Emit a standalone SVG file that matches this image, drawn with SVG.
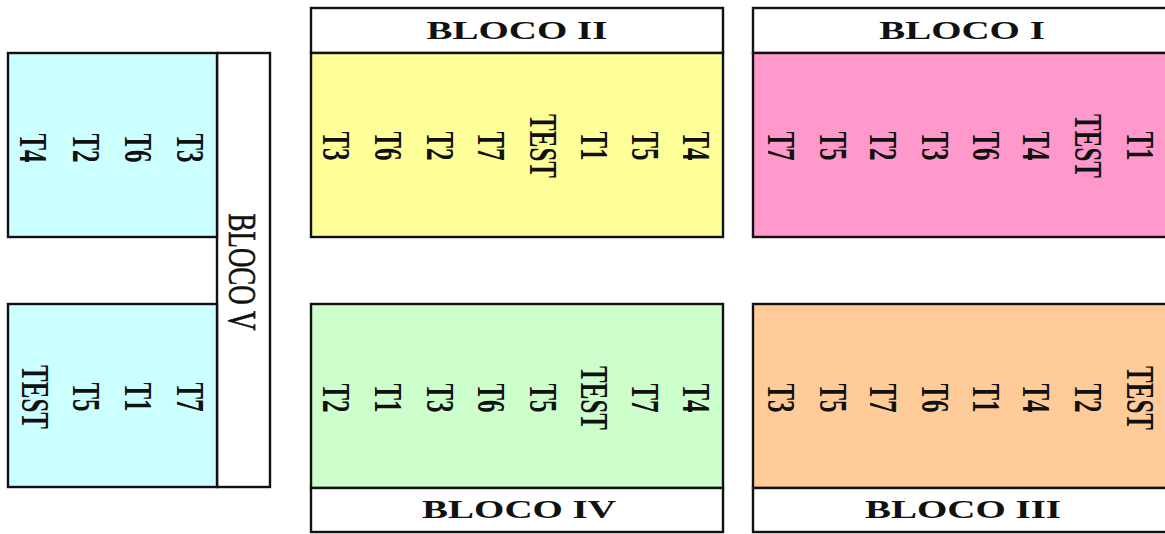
<svg xmlns="http://www.w3.org/2000/svg" width="1165" height="534" viewBox="0 0 1165 534">
<style>
.box{stroke:#111;stroke-width:2.4}
.hdr{fill:#fff}
.yel{fill:#FFFF99}
.pink{fill:#FF99CC}
.cyan{fill:#CCFFFF}
.green{fill:#CCFFCC}
.orange{fill:#FFCC99}
.lbl{font-family:"Liberation Serif","Times New Roman",serif;font-weight:bold;font-size:25px;fill:#111;text-anchor:middle}
.ht{font-family:"Liberation Serif","Times New Roman",serif;font-weight:bold;font-size:26px;fill:#111;text-anchor:middle}
.vt{font-family:"Liberation Serif","Times New Roman",serif;font-size:27px;fill:#111;stroke:#111;stroke-width:0.4;text-anchor:middle}
</style>
<rect width="1165" height="534" fill="#fff"/>
<g id="bloco-ii">
<rect class="box hdr" x="311" y="8" width="412" height="45"/>
<rect class="box yel" x="311" y="53" width="412" height="184"/>
<text class="ht" transform="translate(517,39) scale(1.5,1)">BLOCO II</text>
<text class="lbl" transform="translate(323,146) scale(1.6,1) rotate(90)">T3</text>
<text class="lbl" transform="translate(375,146) scale(1.6,1) rotate(90)">T6</text>
<text class="lbl" transform="translate(427,146) scale(1.6,1) rotate(90)">T2</text>
<text class="lbl" transform="translate(478,146) scale(1.6,1) rotate(90)">T7</text>
<text class="lbl" transform="translate(530,146) scale(1.6,1) rotate(90)">TEST</text>
<text class="lbl" transform="translate(581,146) scale(1.6,1) rotate(90)">T1</text>
<text class="lbl" transform="translate(632,146) scale(1.6,1) rotate(90)">T5</text>
<text class="lbl" transform="translate(683,146) scale(1.6,1) rotate(90)">T4</text>
</g>
<g id="bloco-i">
<rect class="box hdr" x="753" y="8" width="420" height="45"/>
<rect class="box pink" x="753" y="53" width="420" height="184"/>
<text class="ht" transform="translate(962,39) scale(1.5,1)">BLOCO I</text>
<text class="lbl" transform="translate(768,146) scale(1.6,1) rotate(90)">T7</text>
<text class="lbl" transform="translate(820,146) scale(1.6,1) rotate(90)">T5</text>
<text class="lbl" transform="translate(870,146) scale(1.6,1) rotate(90)">T2</text>
<text class="lbl" transform="translate(922,146) scale(1.6,1) rotate(90)">T3</text>
<text class="lbl" transform="translate(973,146) scale(1.6,1) rotate(90)">T6</text>
<text class="lbl" transform="translate(1023,146) scale(1.6,1) rotate(90)">T4</text>
<text class="lbl" transform="translate(1075,146) scale(1.6,1) rotate(90)">TEST</text>
<text class="lbl" transform="translate(1127,146) scale(1.6,1) rotate(90)">T1</text>
</g>
<g id="bloco-iv">
<rect class="box green" x="311" y="304" width="412" height="184"/>
<rect class="box hdr" x="311" y="488" width="412" height="44"/>
<text class="ht" transform="translate(519,518) scale(1.5,1)">BLOCO IV</text>
<text class="lbl" transform="translate(323,398) scale(1.6,1) rotate(90)">T2</text>
<text class="lbl" transform="translate(375,398) scale(1.6,1) rotate(90)">T1</text>
<text class="lbl" transform="translate(427,398) scale(1.6,1) rotate(90)">T3</text>
<text class="lbl" transform="translate(478,398) scale(1.6,1) rotate(90)">T6</text>
<text class="lbl" transform="translate(530,398) scale(1.6,1) rotate(90)">T5</text>
<text class="lbl" transform="translate(581,398) scale(1.6,1) rotate(90)">TEST</text>
<text class="lbl" transform="translate(632,398) scale(1.6,1) rotate(90)">T7</text>
<text class="lbl" transform="translate(683,398) scale(1.6,1) rotate(90)">T4</text>
</g>
<g id="bloco-iii">
<rect class="box orange" x="753" y="304" width="420" height="184"/>
<rect class="box hdr" x="753" y="488" width="420" height="44"/>
<text class="ht" transform="translate(963,518) scale(1.5,1)">BLOCO III</text>
<text class="lbl" transform="translate(768,398) scale(1.6,1) rotate(90)">T3</text>
<text class="lbl" transform="translate(820,398) scale(1.6,1) rotate(90)">T5</text>
<text class="lbl" transform="translate(870,398) scale(1.6,1) rotate(90)">T7</text>
<text class="lbl" transform="translate(922,398) scale(1.6,1) rotate(90)">T6</text>
<text class="lbl" transform="translate(973,398) scale(1.6,1) rotate(90)">T1</text>
<text class="lbl" transform="translate(1023,398) scale(1.6,1) rotate(90)">T4</text>
<text class="lbl" transform="translate(1075,398) scale(1.6,1) rotate(90)">T2</text>
<text class="lbl" transform="translate(1127,398) scale(1.6,1) rotate(90)">TEST</text>
</g>
<g id="bloco-v">
<rect class="box hdr" x="217" y="53" width="53" height="434"/>
<rect class="box cyan" x="8" y="53" width="209" height="184"/>
<rect class="box cyan" x="8" y="304" width="209" height="183"/>
<text class="vt" transform="translate(229,272) scale(1.5,1) rotate(90)">BLOCO V</text>
<text class="lbl" transform="translate(20,148) scale(1.6,1) rotate(90)">T4</text>
<text class="lbl" transform="translate(73,148) scale(1.6,1) rotate(90)">T2</text>
<text class="lbl" transform="translate(125,148) scale(1.6,1) rotate(90)">T6</text>
<text class="lbl" transform="translate(177,148) scale(1.6,1) rotate(90)">T3</text>
<text class="lbl" transform="translate(22,397) scale(1.6,1) rotate(90)">TEST</text>
<text class="lbl" transform="translate(73,397) scale(1.6,1) rotate(90)">T5</text>
<text class="lbl" transform="translate(125,397) scale(1.6,1) rotate(90)">T1</text>
<text class="lbl" transform="translate(177,397) scale(1.6,1) rotate(90)">T7</text>
</g>
<g id="connectors"></g>
</svg>
